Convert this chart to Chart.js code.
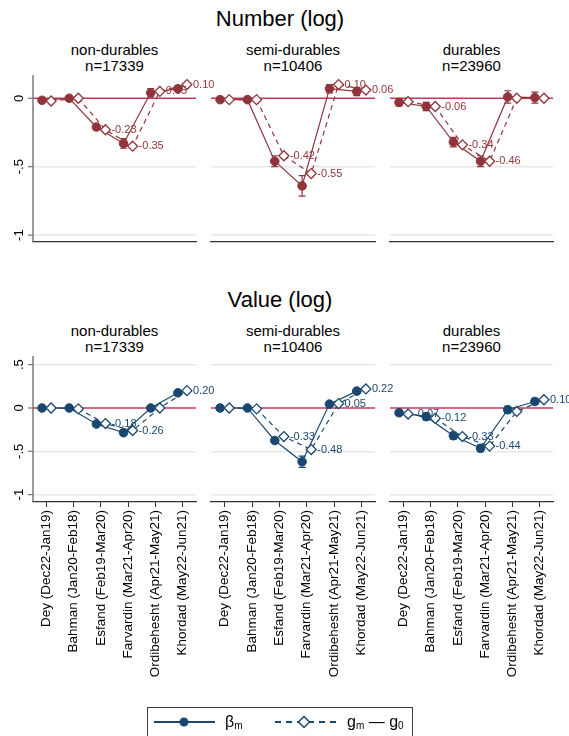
<!DOCTYPE html>
<html><head><meta charset="utf-8">
<script src="https://cdn.jsdelivr.net/npm/chart.js@4"></script>
<style>
body{margin:0;background:#fff;width:569px;height:736px;overflow:hidden;position:relative;font-family:"Liberation Sans",Arial,sans-serif;}
.t{position:absolute;text-align:center;color:#000;white-space:nowrap;}
canvas{position:absolute;}
#legend{position:absolute;left:147px;top:707px;width:266px;height:40px;border:1px solid #404040;box-sizing:border-box;background:#fff;}
</style></head><body>
<script>
// ---------- DATA ----------
const categories = ['Dey (Dec22-Jan19)','Bahman (Jan20-Feb18)','Esfand (Feb19-Mar20)','Farvardin (Mar21-Apr20)','Ordibehesht (Apr21-May21)','Khordad (May22-Jun21)'];
const rowTitles = ['Number (log)','Value (log)'];
const panelNames = ['non-durables','semi-durables','durables'];
const panelN = ['n=17339','n=10406','n=23960'];
const yTicksNumber = [-1,-0.5,0];
const yTicksValue = [-1,-0.5,0,0.5];

// Number (log)
const numNonDurBeta = [-0.015, 0.0, -0.21, -0.33, 0.04, 0.07];
const numNonDurErr  = [0.01, 0.01, 0.02, 0.035, 0.03, 0.02];
const numNonDurG    = [-0.02, 0.0, -0.23, -0.35, 0.05, 0.10];
const numNonDurLbl  = [null, null, '-0.23', '-0.35', '0.05', '0.10'];

const numSemiBeta = [-0.01, -0.01, -0.46, -0.64, 0.07, 0.05];
const numSemiErr  = [0.01, 0.01, 0.04, 0.075, 0.03, 0.03];
const numSemiG    = [-0.01, -0.01, -0.42, -0.55, 0.10, 0.06];
const numSemiLbl  = [null, null, '-0.42', '-0.55', '0.10', '0.06'];

const numDurBeta = [-0.03, -0.06, -0.32, -0.46, 0.01, 0.005];
const numDurErr  = [0.025, 0.03, 0.035, 0.04, 0.045, 0.04];
const numDurG    = [-0.025, -0.06, -0.34, -0.46, 0.0, 0.0];
const numDurLbl  = [null, '-0.06', '-0.34', '-0.46', null, null];

// Value (log)
const valNonDurBeta = [0.0, 0.0, -0.185, -0.285, 0.0, 0.175];
const valNonDurErr  = [0.01, 0.01, 0.02, 0.03, 0.02, 0.02];
const valNonDurG    = [0.0, -0.01, -0.18, -0.26, 0.0, 0.20];
const valNonDurLbl  = [null, null, '-0.18', '-0.26', null, '0.20'];

const valSemiBeta = [0.0, 0.0, -0.375, -0.62, 0.045, 0.195];
const valSemiErr  = [0.01, 0.01, 0.02, 0.065, 0.02, 0.02];
const valSemiG    = [0.0, -0.01, -0.33, -0.48, 0.05, 0.22];
const valSemiLbl  = [null, null, '-0.33', '-0.48', '0.05', '0.22'];

const valDurBeta = [-0.055, -0.10, -0.32, -0.465, -0.02, 0.075];
const valDurErr  = [0.03, 0.04, 0.04, 0.04, 0.04, 0.035];
const valDurG    = [-0.07, -0.12, -0.33, -0.44, -0.04, 0.095];
const valDurLbl  = ['-0.07', '-0.12', '-0.33', '-0.44', null, '0.10'];

// ---------- LAYOUT / STYLE ----------
const FONT = '"Liberation Sans", Arial, sans-serif';
const NUM_COLOR = '#90353B';
const VAL_COLOR = '#1A476F';
const ZERO_COLOR = '#C8375C';
const colLeft = [33, 211, 390], colRight = [196, 375, 553];
const rowTop = [75, 356], rowBottom = [242, 502];
const rowRange = [[-1.05, 0.17], [-1.085, 0.6]];
const OFF = 0.167;

function addText(txt, left, width, baseline, fs){
  const d = document.createElement('div');
  d.className = 't';
  d.textContent = txt;
  d.style.left = left + 'px'; d.style.width = width + 'px';
  d.style.fontSize = fs + 'px'; d.style.lineHeight = fs + 'px';
  d.style.top = (baseline - 0.8465 * fs) + 'px';
  document.body.appendChild(d);
}

function makePanel(r, c, beta, err, g, lbls, color, yTicks){
  const padL = 40, padR = 45, padT = 10;
  const plotW = colRight[c] - colLeft[c], plotH = rowBottom[r] - rowTop[r];
  const xH = r === 1 ? 185 : 0;
  const canvasH = r === 1 ? (700 - rowTop[r] + padT) : (plotH + padT + 10);
  const padB = canvasH - padT - plotH - xH;
  const cv = document.createElement('canvas');
  cv.width = plotW + padL + padR; cv.height = canvasH;
  cv.style.left = (colLeft[c] - padL) + 'px';
  cv.style.top = (rowTop[r] - padT) + 'px';
  cv.style.width = cv.width + 'px'; cv.style.height = cv.height + 'px';
  document.body.appendChild(cv);

  const deco = {
    id: 'deco' + r + c,
    beforeDatasetsDraw(chart){
      const {ctx, chartArea: a, scales: {y}} = chart;
      ctx.save();
      const y0 = y.getPixelForValue(0);
      ctx.strokeStyle = ZERO_COLOR; ctx.lineWidth = 1.5;
      ctx.beginPath(); ctx.moveTo(a.left, y0); ctx.lineTo(a.right, y0); ctx.stroke();
      if (c === 0){
        ctx.strokeStyle = '#7a7a7a'; ctx.lineWidth = 1.5;
        ctx.beginPath(); ctx.moveTo(a.left, a.top); ctx.lineTo(a.left, a.bottom); ctx.stroke();
        ctx.font = '13px ' + FONT; ctx.fillStyle = '#000';
        ctx.textAlign = 'center'; ctx.textBaseline = 'middle';
        yTicks.forEach(v => {
          const py = y.getPixelForValue(v);
          ctx.strokeStyle = '#7a7a7a'; ctx.lineWidth = 1.2;
          ctx.beginPath(); ctx.moveTo(a.left - 5, py); ctx.lineTo(a.left, py); ctx.stroke();
          ctx.save(); ctx.translate(a.left - 14, py); ctx.rotate(-Math.PI/2);
          ctx.fillText(String(v).replace('0.', '.'), 0, 0);
          ctx.restore();
        });
      }
      ctx.restore();
    },
    afterDatasetsDraw(chart){
      const {ctx, scales: {x, y}} = chart;
      ctx.save();
      ctx.strokeStyle = color; ctx.lineWidth = 1.2;
      beta.forEach((v, i) => {
        const px = x.getPixelForValue(i + 1 - OFF);
        const yl = y.getPixelForValue(v - err[i]), yh = y.getPixelForValue(v + err[i]);
        ctx.beginPath();
        ctx.moveTo(px, yl); ctx.lineTo(px, yh);
        ctx.moveTo(px - 3.5, yl); ctx.lineTo(px + 3.5, yl);
        ctx.moveTo(px - 3.5, yh); ctx.lineTo(px + 3.5, yh);
        ctx.stroke();
      });
      ctx.font = '11px ' + FONT; ctx.fillStyle = color;
      ctx.textAlign = 'left'; ctx.textBaseline = 'middle';
      g.forEach((v, i) => {
        if (!lbls[i]) return;
        ctx.fillText(lbls[i], x.getPixelForValue(i + 1 + OFF) + 6, y.getPixelForValue(v));
      });
      ctx.restore();
    }
  };

  new Chart(cv, {
    type: 'line',
    data: {
      datasets: [
        {data: g.map((v, i) => ({x: i + 1 + OFF, y: v})), borderColor: color, backgroundColor: '#fff',
         borderDash: [5, 4], borderWidth: 1.2, pointStyle: 'rectRot', pointRadius: 5, pointBorderWidth: 1.3,
         pointBackgroundColor: '#fff', pointBorderColor: color, clip: false, order: 0},
        {data: beta.map((v, i) => ({x: i + 1 - OFF, y: v})), borderColor: color, backgroundColor: color,
         borderWidth: 1.2, pointStyle: 'circle', pointRadius: 4.3, pointBorderWidth: 1,
         pointBackgroundColor: color, pointBorderColor: color, clip: false, order: 1}
      ]
    },
    options: {
      responsive: false, animation: false, devicePixelRatio: 1, events: [],
      layout: {padding: {left: padL, right: padR, top: padT, bottom: padB}},
      plugins: {legend: {display: false}, tooltip: {enabled: false}, title: {display: false}},
      scales: {
        x: {
          type: 'linear', min: 0.5, max: 6.5, position: 'bottom',
          afterBuildTicks: s => { s.ticks = categories.map((_, i) => ({value: i + 1})); },
          afterFit: s => { s.height = xH; },
          grid: {display: true, drawOnChartArea: false, drawTicks: r === 1, tickLength: 5, color: '#333', lineWidth: 1},
          border: {display: true, color: '#333', width: 1.2},
          ticks: {display: r === 1, autoSkip: false, minRotation: 90, maxRotation: 90, padding: 3, color: '#000',
                  font: {size: 13.5, family: FONT}, callback: v => categories[v - 1]}
        },
        y: {
          type: 'linear', min: rowRange[r][0], max: rowRange[r][1],
          afterBuildTicks: s => { s.ticks = yTicks.map(v => ({value: v})); },
          afterFit: s => { s.width = 0; },
          grid: {color: ctx => (ctx.tick && ctx.tick.value === 0) ? 'rgba(0,0,0,0)' : '#e8e8e8', lineWidth: 1.5, drawTicks: false},
          border: {display: false},
          ticks: {display: false}
        }
      }
    },
    plugins: [deco]
  });
}

// titles
addText(rowTitles[0], 0, 560, 27, 22);
addText(rowTitles[1], 0, 560, 308, 22);
for (let r = 0; r < 2; r++){
  for (let c = 0; c < 3; c++){
    const w = colRight[c] - colLeft[c];
    addText(panelNames[c], colLeft[c] - 20, w + 40, 55 + r * 281, 15);
    addText(panelN[c], colLeft[c] - 20, w + 40, 71 + r * 281, 15);
  }
}

makePanel(0, 0, numNonDurBeta, numNonDurErr, numNonDurG, numNonDurLbl, NUM_COLOR, yTicksNumber);
makePanel(0, 1, numSemiBeta, numSemiErr, numSemiG, numSemiLbl, NUM_COLOR, yTicksNumber);
makePanel(0, 2, numDurBeta, numDurErr, numDurG, numDurLbl, NUM_COLOR, yTicksNumber);
makePanel(1, 0, valNonDurBeta, valNonDurErr, valNonDurG, valNonDurLbl, VAL_COLOR, yTicksValue);
makePanel(1, 1, valSemiBeta, valSemiErr, valSemiG, valSemiLbl, VAL_COLOR, yTicksValue);
makePanel(1, 2, valDurBeta, valDurErr, valDurG, valDurLbl, VAL_COLOR, yTicksValue);
</script>
<div id="legend">
  <svg width="264" height="38" style="position:absolute;left:0;top:0">
    <line x1="6" y1="14" x2="67" y2="14" stroke="#1A476F" stroke-width="2"/>
    <circle cx="36" cy="14" r="4.5" fill="#1A476F"/>
    <line x1="127" y1="14" x2="188" y2="14" stroke="#1A476F" stroke-width="2" stroke-dasharray="6,5"/>
    <path d="M156 8.5 L161.5 14 L156 19.5 L150.5 14 Z" fill="#fff" stroke="#1A476F" stroke-width="1.5"/>
  </svg>
  <div style="position:absolute;left:77px;top:5px;font-size:16px;line-height:18px;">β<span style="font-size:10px;position:relative;top:2px">m</span></div>
  <div style="position:absolute;left:199px;top:5px;font-size:16px;line-height:18px;white-space:nowrap">g<span style="font-size:10px;position:relative;top:2px">m</span> — g<span style="font-size:10px;position:relative;top:2px">0</span></div>
</div>
</body></html>
